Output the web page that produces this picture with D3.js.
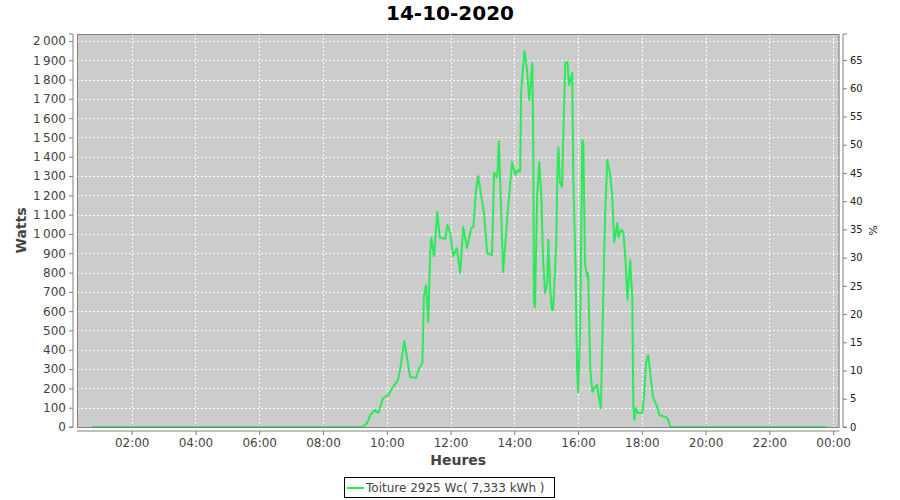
<!DOCTYPE html>
<html>
<head>
<meta charset="utf-8">
<script src="https://cdn.jsdelivr.net/npm/d3@7/dist/d3.min.js"></script>
<style>
  html, body { margin: 0; padding: 0; background: #ffffff; }
  svg { display: block; font-family: "DejaVu Sans", sans-serif; }
</style>
</head>
<body>
<svg id="chart" width="900" height="500"></svg>
<script>
const title = "14-10-2020";
const seriesName = "Toiture 2925 Wc( 7,333 kWh )";
const peakPower = 2925;
const times = ["00:45","09:10","09:14","09:23","09:29","09:38","09:44","09:53","10:03","10:10","10:21","10:25","10:33","10:38","10:44","10:55","11:01","11:07","11:10","11:14","11:18","11:22","11:24","11:29","11:35","11:40","11:50","11:54","11:59","12:05","12:12","12:18","12:24","12:31","12:39","12:43","12:48","12:52","12:59","13:03","13:09","13:18","13:22","13:28","13:31","13:39","13:48","13:56","14:02","14:06","14:11","14:13","14:19","14:24","14:28","14:34","14:36","14:37","14:39","14:43","14:47","14:51","14:54","14:58","15:02","15:04","15:08","15:11","15:13","15:19","15:21","15:23","15:26","15:30","15:32","15:36","15:40","15:43","15:49","15:51","15:55","15:58","16:00","16:04","16:08","16:10","16:13","16:17","16:19","16:23","16:27","16:31","16:36","16:38","16:43","16:47","16:51","16:55","17:00","17:04","17:08","17:14","17:16","17:21","17:25","17:29","17:33","17:38","17:42","17:44","17:46","17:49","17:53","18:01","18:04","18:08","18:12","18:18","18:21","18:29","18:33","18:44","18:48","18:54","23:47"];
const watts = [0,0,0,20,62,88,72,150,166,200,243,295,445,363,259,254,305,330,675,735,545,917,980,885,1115,980,975,1047,1010,885,927,798,1036,927,1031,1036,1228,1300,1176,1109,901,891,1316,1295,1480,803,1124,1373,1305,1331,1321,1746,1948,1850,1694,1886,1368,648,622,1192,1373,1192,881,694,746,969,694,606,606,953,1316,1451,1264,1244,1487,1886,1891,1772,1834,1295,850,332,181,502,1487,1471,850,777,798,295,181,202,218,176,98,622,1109,1383,1316,1212,958,1057,984,1021,1010,881,658,865,674,124,36,98,72,72,155,332,373,228,155,104,62,52,47,0,0];
const xTickLabels = ["02:00","04:00","06:00","08:00","10:00","12:00","14:00","16:00","18:00","20:00","22:00","00:00"];
const yTicks = [0,100,200,300,400,500,600,700,800,900,1000,1100,1200,1300,1400,1500,1600,1700,1800,1900,2000];
const pctTicks = [0,5,10,15,20,25,30,35,40,45,50,55,60,65];

const svg = d3.select("#chart");
const L = 77, R = 839.5, T = 34, B = 427;
const toH = s => { const [h, m] = s.split(":").map(Number); return h + m / 60; };
const tickH = s => { const v = toH(s); return v === 0 ? 24 : v; };

const x = d3.scaleLinear().domain([0.285, 24.2]).range([L, R]);
const y = d3.scaleLinear().domain([0, 2036]).range([B, T]);
const yp = d3.scaleLinear().domain([0, 2036 / peakPower * 100]).range([B, T]);

// title
svg.append("text").attr("x", 450).attr("y", 20).attr("text-anchor", "middle")
  .attr("font-size", 20).attr("font-weight", "bold").attr("fill", "#000").text(title);

// plot background
svg.append("rect").attr("x", L).attr("y", T).attr("width", R - L).attr("height", B - T)
  .attr("fill", "#cccccc");

// grid
const grid = svg.append("g").attr("stroke", "#ffffff").attr("stroke-width", 1)
  .attr("stroke-dasharray", "2,2").attr("shape-rendering", "crispEdges");
yTicks.forEach(v => grid.append("line").attr("x1", L).attr("x2", R)
  .attr("y1", Math.round(y(v)) + 0.5).attr("y2", Math.round(y(v)) + 0.5));
xTickLabels.forEach(s => grid.append("line").attr("y1", T).attr("y2", B)
  .attr("x1", Math.round(x(tickH(s))) + 0.5).attr("x2", Math.round(x(tickH(s))) + 0.5));

// clip + line
svg.append("clipPath").attr("id", "clip").append("rect")
  .attr("x", L).attr("y", T).attr("width", R - L).attr("height", B - T);
const data = times.map((t, i) => ({ h: toH(t), w: watts[i] }));
const line = d3.line().x(d => x(d.h)).y(d => y(d.w));
svg.append("path").datum(data).attr("clip-path", "url(#clip)")
  .attr("fill", "none").attr("stroke", "#2aea5a").attr("stroke-width", 2)
  .attr("stroke-linejoin", "round").attr("d", line);

// plot outline
svg.append("rect").attr("x", L + 0.5).attr("y", T + 0.5).attr("width", R - L - 1).attr("height", B - T)
  .attr("fill", "none").attr("stroke", "#808080").attr("stroke-width", 1);

// left axis
const yAxis = d3.axisLeft(y).tickValues(yTicks).tickSize(4).tickPadding(3)
  .tickFormat(v => d3.format(",")(v).replace(",", "\u202f"));
const gy = svg.append("g").attr("transform", `translate(${L - 4},0)`).call(yAxis);
gy.select(".domain").attr("stroke", "#808080").attr("d", `M-4,${T}H0V${B}H-4`);
gy.selectAll(".tick line").attr("stroke", "#808080");
gy.selectAll(".tick text").attr("font-size", 12).attr("fill", "#444").attr("font-family", "DejaVu Sans");

// right axis
const pAxis = d3.axisRight(yp).tickValues(pctTicks).tickSize(4).tickPadding(3);
const gp = svg.append("g").attr("transform", `translate(${R + 3.5},0)`).call(pAxis);
gp.select(".domain").attr("stroke", "#808080").attr("d", `M4,${T}H0V${B}H4`);
gp.selectAll(".tick line").attr("stroke", "#808080");
gp.selectAll(".tick text").attr("font-size", 10).attr("fill", "#222").attr("font-family", "DejaVu Sans");

// bottom axis
const xAxis = d3.axisBottom(x).tickValues(xTickLabels.map(tickH)).tickSize(4).tickPadding(3)
  .tickFormat((v, i) => xTickLabels[i]);
const gx = svg.append("g").attr("transform", `translate(0,${B + 4})`).call(xAxis);
gx.select(".domain").attr("stroke", "#808080").attr("d", `M${L},0H${R}`);
gx.selectAll(".tick line").attr("stroke", "#808080");
gx.selectAll(".tick text").attr("font-size", 12).attr("fill", "#444").attr("font-family", "DejaVu Sans");

// axis labels
svg.append("text").attr("x", (L + R) / 2).attr("y", 465).attr("text-anchor", "middle")
  .attr("font-size", 14).attr("font-weight", "bold").attr("fill", "#444").text("Heures");
svg.append("text").attr("transform", `translate(26,${(T + B) / 2}) rotate(-90)`).attr("text-anchor", "middle")
  .attr("font-size", 14).attr("font-weight", "bold").attr("fill", "#444").text("Watts");
svg.append("text").attr("transform", `translate(869,${(T + B) / 2}) rotate(90)`).attr("text-anchor", "middle")
  .attr("font-size", 11).attr("fill", "#222").text("%");

// legend
const lg = svg.append("g");
lg.append("rect").attr("x", 344.5).attr("y", 477.5).attr("width", 210).attr("height", 20)
  .attr("fill", "#fff").attr("stroke", "#000");
lg.append("line").attr("x1", 347).attr("x2", 364).attr("y1", 488).attr("y2", 488)
  .attr("stroke", "#2aea5a").attr("stroke-width", 2);
lg.append("text").attr("x", 366).attr("y", 492).attr("font-size", 12).attr("fill", "#444").text(seriesName);
</script>
</body>
</html>
